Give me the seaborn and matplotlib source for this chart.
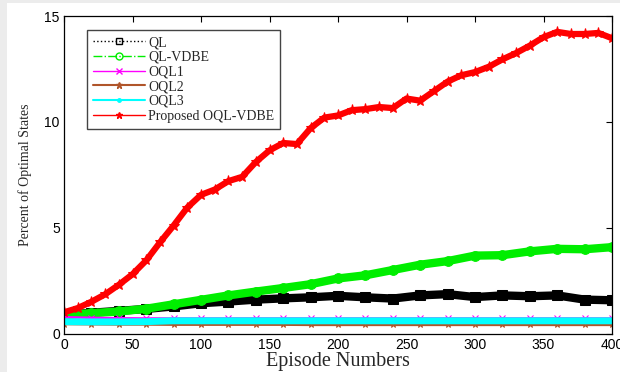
import matplotlib
matplotlib.use("Agg")
import matplotlib.pyplot as plt
import seaborn as sns
from matplotlib.lines import Line2D
from matplotlib.patches import Rectangle

# ---------------- data ----------------
episodes_10 = list(range(0, 401, 10))
episodes_20 = list(range(0, 401, 20))

proposed_oql_vdbe = [1.0, 1.2, 1.5, 1.85, 2.3, 2.8, 3.45, 4.3, 5.1, 5.95,
                     6.55, 6.8, 7.2, 7.4, 8.1, 8.65, 9.0, 8.95, 9.7, 10.2,
                     10.3, 10.55, 10.6, 10.7, 10.65, 11.1, 11.0, 11.45, 11.9, 12.2,
                     12.35, 12.6, 12.95, 13.25, 13.6, 14.0, 14.25, 14.15, 14.15, 14.2,
                     13.95]
ql = [0.88, 0.98, 1.07, 1.16, 1.28, 1.43, 1.51, 1.6, 1.66, 1.71, 1.78,
      1.71, 1.65, 1.8, 1.86, 1.72, 1.8, 1.76, 1.8, 1.6, 1.57]
ql_vdbe = [0.88, 0.96, 1.04, 1.17, 1.38, 1.59, 1.8, 1.98, 2.15, 2.33, 2.6,
           2.75, 3.0, 3.25, 3.42, 3.68, 3.7, 3.88, 4.0, 3.98, 4.08]
oql1 = [0.77, 0.74, 0.72, 0.71, 0.71, 0.71, 0.71, 0.71, 0.71, 0.71, 0.71,
        0.71, 0.71, 0.71, 0.71, 0.71, 0.71, 0.71, 0.71, 0.71, 0.71]
oql2 = [0.47, 0.46, 0.45, 0.45, 0.44, 0.44, 0.44, 0.44, 0.44, 0.43, 0.43,
        0.43, 0.43, 0.43, 0.43, 0.43, 0.43, 0.43, 0.43, 0.43, 0.43]
oql3 = [0.56, 0.55, 0.55, 0.56, 0.6, 0.6, 0.6, 0.6, 0.6, 0.6, 0.6,
        0.6, 0.6, 0.6, 0.6, 0.6, 0.6, 0.6, 0.6, 0.6, 0.6]

labels = ["QL", "QL-VDBE", "OQL1", "OQL2", "OQL3", "Proposed OQL-VDBE"]
colors = ["black", "#00ee00", "magenta", "#b0552a", "cyan", "red"]

# ---------------- figure ----------------
sns.set_style("white")
plt.rcParams["font.family"] = ["Liberation Sans", "DejaVu Sans"]

fig = plt.figure(figsize=(6.2, 3.72), dpi=100, facecolor="white")
fig.patches.append(Rectangle((0, 0), 7 / 620, 1, transform=fig.transFigure,
                             facecolor="#ececec", edgecolor="none", zorder=-10))
fig.patches.append(Rectangle((0, 1 - 3 / 372), 1, 3 / 372,
                             transform=fig.transFigure, facecolor="#ececec",
                             edgecolor="none", zorder=-10))
ax = fig.add_axes([64 / 620, (372 - 333.5) / 372, 548 / 620, 317.5 / 372])
ax.set_facecolor("white")

sns.lineplot(x=episodes_20, y=ql, ax=ax, color=colors[0], linewidth=6,
             marker="s", markersize=7, markeredgecolor=colors[0], legend=False)
sns.lineplot(x=episodes_20, y=ql_vdbe, ax=ax, color=colors[1], linewidth=6,
             marker="o", markersize=7, markeredgecolor=colors[1], legend=False)
sns.lineplot(x=episodes_20, y=oql1, ax=ax, color=colors[2], linewidth=1.8,
             marker="x", markersize=5, markeredgecolor=colors[2], legend=False)
sns.lineplot(x=episodes_20, y=oql2, ax=ax, color=colors[3], linewidth=2.5,
             marker="*", markersize=5, markeredgecolor=colors[3], legend=False)
sns.lineplot(x=episodes_20, y=oql3, ax=ax, color=colors[4], linewidth=5,
             marker=".", markersize=6, markeredgecolor=colors[4], legend=False)
sns.lineplot(x=episodes_10, y=proposed_oql_vdbe, ax=ax, color=colors[5],
             linewidth=4.5, marker="*", markersize=8, markeredgecolor=colors[5],
             legend=False)

ax.set_xlim(0, 400)
ax.set_ylim(0, 15)
ax.set_xticks(range(0, 401, 50))
ax.set_yticks([0, 5, 10, 15])
ax.tick_params(direction="in", length=4, width=0.8, top=True, right=True,
               labelsize=10, pad=3, colors="black")
for s in ax.spines.values():
    s.set_color("black")
    s.set_linewidth(0.9)

ax.set_xlabel("Episode Numbers", family="Liberation Serif", fontsize=14.5,
              labelpad=0)
ax.set_ylabel("Percent of Optimal States", family="Liberation Serif",
              fontsize=10, labelpad=9)

handles = [
    Line2D([], [], color="black", linestyle=":", linewidth=1, marker="s",
           markersize=5, markerfacecolor="none"),
    Line2D([], [], color=colors[1], linestyle="-.", linewidth=1, marker="o",
           markersize=5, markerfacecolor="none"),
    Line2D([], [], color="magenta", linestyle="-", linewidth=1, marker="x",
           markersize=5),
    Line2D([], [], color=colors[3], linestyle="-", linewidth=1.5, marker="*",
           markersize=5),
    Line2D([], [], color="cyan", linestyle="-", linewidth=1.5, marker=".",
           markersize=5),
    Line2D([], [], color="red", linestyle="-", linewidth=1, marker="*",
           markersize=5),
]
leg = ax.legend(handles, labels, loc="upper left",
                bbox_to_anchor=((87 - 64) / 548, (333.5 - 30) / 317.5),
                borderaxespad=0, fancybox=False, frameon=True,
                edgecolor="#444444", framealpha=1, handlelength=3.7,
                labelspacing=0.12, handletextpad=0.25, borderpad=0.45,
                prop={"family": "Liberation Serif", "size": 10})
leg.get_frame().set_linewidth(1.0)

fig.savefig("out.png", dpi=100, facecolor=fig.get_facecolor())
